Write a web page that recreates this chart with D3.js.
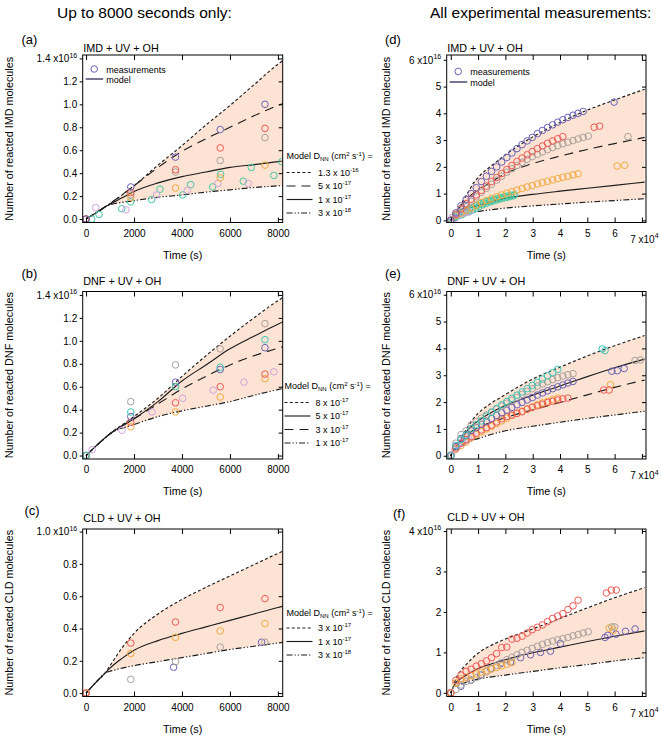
<!DOCTYPE html>
<html><head><meta charset="utf-8">
<script src="https://cdn.jsdelivr.net/npm/d3@7"></script>
<style>
body{margin:0;background:#fff}
svg{font-family:"Liberation Sans",Arial,Helvetica,sans-serif}
</style></head><body>
<svg id="c" width="661" height="737"></svg>
<script>
// ---------------- DATA (time in s, values in 1e16 molecules) ----------------
const sampleTimes = [0,1865,3730,5595,7460,9325,11190,13055,14920,16785,18650,20515,22380,24245,26110,27975,29840,31705,33570,35435,37300,39165,41030,42895,44760,46625,48490,50355];

// IMD measurements
const imdPurple = [0,.28,.54,.78,1.00,1.22,1.45,1.65,1.83,2.0,2.18,2.35,2.52,2.68,2.83,2.97,3.1,3.24,3.36,3.47,3.57,3.67,3.76,3.85,3.93,4.0,4.07];
const imdPurpleLate = [[59800,4.42]];
const imdRed = [0,.23,.43,.62,.79,.95,1.12,1.28,1.45,1.6,1.75,1.9,2.05,2.2,2.33,2.45,2.57,2.68,2.78,2.88,2.97,3.05,3.13];
const imdRedLate = [[52500,3.48],[54500,3.52]];
const imdGray = [0,.21,.41,.51,.71,.88,1.05,1.2,1.35,1.5,1.65,1.8,1.93,2.05,2.17,2.28,2.38,2.47,2.56,2.64,2.72,2.79,2.86,2.92,2.98,3.04,3.1,3.15];
const imdGrayLate = [[64900,3.13]];
const imdOrange = [0,.19,.27,.36,.47,.57,.66,.74,.81,.88,.95,1.01,1.07,1.13,1.19,1.25,1.3,1.36,1.41,1.46,1.51,1.56,1.61,1.65,1.7,1.74];
const imdOrangeLate = [[60900,2.03],[63700,2.06]];
const imdGreenA = [[236,0.0],[1486,.09],[2736,.17],[4028,.21],[5278,.28],[6556,.33],[7833,.38],[9100,.45],[10370,.52],[11640,.58],[12910,.63],[14180,.68],[15450,.72],[16720,.76],[17990,.8],[19260,.83],[20530,.86],[21800,.89],[23070,.92]];
const imdGreenB = [[540,.04],[1861,.15],[3083,.26],[4361,.30],[5611,.39],[6889,.45],[8160,.5],[9430,.56],[10700,.62],[11970,.66],[13240,.7],[14510,.74],[15780,.78],[17050,.81],[18320,.85],[19590,.88],[20860,.91],[22130,.94],[23400,.96]];
const imdPink = [[403,.10],[1667,.08],[2944,.21],[4222,.25],[5500,.31],[6764,.31]];

// IMD model curves
const imdD13e16 = [[0,0],[500,.065],[850,.113],[1000,.135],[2000,.29],[3000,.47],[4000,.64],[5000,.82],[6000,.99],[7000,1.17],[8000,1.35],[10000,1.6],[12500,1.85],[15000,2.05],[20000,2.45],[25000,2.8],[30000,3.12],[35000,3.4],[40000,3.66],[45000,3.9],[50000,4.12],[60000,4.5],[71000,4.9]];
const imdD5e17 = [[0,0],[500,.065],[850,.113],[1000,.135],[2000,.29],[3000,.45],[4000,.59],[5000,.70],[6000,.80],[7000,.90],[8000,.99],[10000,1.13],[15000,1.45],[20000,1.75],[30000,2.12],[40000,2.4],[50000,2.65],[60000,2.87],[71000,3.1]];
const imdD1e17 = [[0,0],[500,.065],[850,.113],[1000,.13],[1500,.185],[2000,.24],[3000,.315],[4000,.37],[5000,.41],[6000,.45],[7000,.475],[8000,.50],[10000,.56],[15000,.7],[20000,.82],[30000,.97],[40000,1.09],[50000,1.2],[60000,1.31],[71000,1.43]];
const imdD3e18 = [[0,0],[500,.065],[850,.113],[2000,.16],[3000,.19],[4000,.21],[5000,.235],[6000,.255],[7000,.275],[8000,.29],[10000,.33],[15000,.4],[20000,.46],[30000,.54],[40000,.61],[50000,.68],[60000,.74],[71000,.81]];

// DNF measurements
const dnfGray = [0,.47,.79,.93,1.15,1.27,1.4,1.52,1.63,1.74,1.85,1.96,2.07,2.18,2.29,2.4,2.5,2.6,2.68,2.76,2.84,2.91,2.97,3.02,3.06];
const dnfGrayLate = [[67500,3.55],[69500,3.57]];
const dnfTeal = [0,.38,.6,.77,1.01,1.15,1.3,1.47,1.62,1.76,1.9,2.02,2.14,2.26,2.38,2.5,2.62,2.74,2.86,2.98,3.1,3.22];
const dnfTealLate = [[55500,3.98],[56500,3.92]];
const dnfPurple = [0,.34,.64,.75,.94,1.05,1.17,1.28,1.39,1.5,1.6,1.7,1.8,1.9,1.99,2.08,2.17,2.26,2.34,2.42,2.5,2.57,2.64,2.71,2.77];
const dnfPurpleLate = [[59000,3.15],[61000,3.17],[63500,3.25]];
const dnfRed = [0,.29,.46,.6,.71,.84,.96,1.05,1.14,1.26,1.38,1.46,1.52,1.58,1.64,1.74,1.8,1.86,1.92,1.98,2.03,2.08,2.12,2.15];
const dnfRedLate = [[56000,2.45],[58000,2.45]];
const dnfOrange = [0,.25,.38,.51,.67,.79,.9,1.0,1.1,1.2,1.3,1.4,1.5,1.58,1.66,1.74,1.82,1.9,1.97,2.03,2.09,2.15];
const dnfOrangeLate = [[58500,2.65]];
const dnfPink = [[250,.05],[1500,.22],[2750,.38],[4028,.50],[5300,.57],[6583,.64],[7833,.73]];

// DNF model curves
const dnfD8e17 = [[0,0],[500,.1],[1000,.19],[2000,.34],[3000,.5],[4000,.69],[5000,.87],[6000,1.04],[7000,1.2],[8000,1.35],[10000,1.58],[15000,1.97],[20000,2.28],[30000,2.86],[40000,3.3],[50000,3.72],[60000,4.1],[71000,4.48]];
const dnfD5e17 = [[0,0],[500,.1],[1000,.19],[2000,.32],[3000,.47],[4000,.65],[5000,.79],[6000,.93],[7000,1.04],[8000,1.145],[10000,1.3],[15000,1.62],[20000,1.87],[30000,2.26],[40000,2.6],[50000,2.95],[60000,3.28],[71000,3.6]];
const dnfD3e17 = [[0,0],[500,.1],[1000,.19],[2000,.32],[3000,.45],[4000,.58],[5000,.69],[6000,.79],[7000,.87],[8000,.935],[10000,1.05],[15000,1.25],[20000,1.42],[30000,1.71],[40000,1.99],[50000,2.27],[60000,2.55],[71000,2.82]];
const dnfD1e17 = [[0,0],[500,.1],[1000,.19],[2000,.27],[3000,.34],[4000,.39],[5000,.43],[6000,.47],[7000,.525],[8000,.575],[10000,.64],[15000,.8],[20000,.93],[30000,1.1],[40000,1.25],[50000,1.39],[60000,1.52],[71000,1.66]];

// CLD measurements
const cldRed = [0,.31,.44,.53,.585,.66,.72,.79,.87,.97,1.12,1.13,1.33,1.35,1.4,1.48,1.56,1.62,1.68,1.76,1.84,1.9,1.96,2.06,2.15,2.29];
const cldRedLate = [[57000,2.47],[58800,2.54],[60600,2.54]];
const cldGray = [0,.085,.195,.285,.315,.38,.45,.52,.6,.68,.75,.82,.88,.94,1.0,1.05,1.1,1.15,1.2,1.24,1.28,1.31,1.34,1.37,1.41,1.44,1.48,1.51];
const cldGrayLate = [[59000,1.63],[60000,1.63]];
const cldOrange = [0,.245,.345,.385,.43,.47,.51,.55,.59,.63,.67,.71,.75];
const cldOrangeLate = [[58000,1.6],[59500,1.55]];
const cldPurple = [[0,0],[3650,.16],[7320,.315],[10950,.44],[14600,.6],[18250,.72],[21900,.76],[25550,.87],[29200,.94],[32850,1.0],[36500,1.03],[40150,1.22],[56500,1.37],[57500,1.42],[60500,1.45],[64000,1.52],[67500,1.58]];

// CLD model curves
const cldD3e17 = [[0,0],[500,.08],[800,.125],[1000,.17],[1500,.28],[2000,.37],[3000,.49],[4000,.58],[5000,.655],[6000,.725],[7000,.795],[8000,.865],[10000,.98],[15000,1.18],[20000,1.33],[25000,1.46],[30000,1.58],[35000,1.71],[40000,1.84],[50000,2.1],[60000,2.35],[71000,2.6]];
const cldD1e17 = [[0,0],[500,.08],[800,.125],[1000,.155],[1500,.215],[2000,.265],[3000,.325],[4000,.37],[5000,.41],[6000,.45],[7000,.49],[8000,.53],[10000,.6],[15000,.72],[20000,.82],[30000,.99],[40000,1.13],[50000,1.27],[60000,1.4],[71000,1.53]];
const cldD3e18 = [[0,0],[500,.08],[800,.125],[1000,.135],[2000,.17],[3000,.195],[4000,.22],[5000,.245],[6000,.27],[7000,.29],[8000,.31],[10000,.34],[20000,.44],[30000,.53],[40000,.62],[50000,.7],[60000,.79],[71000,.87]];

// legend labels
const imdLegend = [["1.3 x 10","-16"],["5 x 10","-17"],["1 x 10","-17"],["3 x 10","-18"]];
const dnfLegend = [["8 x 10","-17"],["5 x 10","-17"],["3 x 10","-17"],["1 x 10","-17"]];
const cldLegend = [["3 x 10","-17"],["1 x 10","-17"],["3 x 10","-18"]];

// ticks
const leftXTicks = [0,2000,4000,6000,8000];
const rightXTicks = [0,10000,20000,30000,40000,50000,60000,70000];
const leftYTicks14 = [0,.2,.4,.6,.8,1.0,1.2,1.4];
const leftYTicks10 = [0,.2,.4,.6,.8,1.0];
const rightYTicks6 = [0,1,2,3,4,5,6];
const rightYTicks4 = [0,1,2,3,4];

// ---------------- STYLE ----------------
const FONT = '"Liberation Sans",Arial,Helvetica,sans-serif';
const C = {purple:"#6a62b4", red:"#ee5a55", gray:"#a8a09b", orange:"#f1a93d", green:"#44c7a3", teal:"#3ec4b6", pink:"#cea4dc"};
const BAND = "#fde3d4";
const STY = {
  dot:{dash:"3,2.3"}, long:{dash:"9,6"}, solid:{dash:null}, dd:{dash:"6,2,1.3,2,1.3,2"}
};

const svg = d3.select("#c");
const defs = svg.append("defs");

const fromGrid = (vals, late) => vals.map((v,i)=>[sampleTimes[i], v]).concat(late||[]);

const imdSeries = [
  {c:C.green, pts:imdGreenA},{c:C.green, pts:imdGreenB},{c:C.pink, pts:imdPink},
  {c:C.orange, pts:fromGrid(imdOrange, imdOrangeLate)},
  {c:C.gray, pts:fromGrid(imdGray, imdGrayLate)},
  {c:C.red, pts:fromGrid(imdRed, imdRedLate)},
  {c:C.purple, pts:fromGrid(imdPurple, imdPurpleLate)}
];
const dnfSeries = [
  {c:C.pink, pts:dnfPink},
  {c:C.orange, pts:fromGrid(dnfOrange, dnfOrangeLate)},
  {c:C.red, pts:fromGrid(dnfRed, dnfRedLate)},
  {c:C.purple, pts:fromGrid(dnfPurple, dnfPurpleLate)},
  {c:C.gray, pts:fromGrid(dnfGray, dnfGrayLate)},
  {c:C.teal, pts:fromGrid(dnfTeal, dnfTealLate)}
];
const cldSeries = [
  {c:C.purple, pts:cldPurple},
  {c:C.gray, pts:fromGrid(cldGray, cldGrayLate)},
  {c:C.orange, pts:fromGrid(cldOrange, cldOrangeLate)},
  {c:C.red, pts:fromGrid(cldRed, cldRedLate)}
];
const imdModels = [{pts:imdD13e16,s:"dot"},{pts:imdD5e17,s:"long"},{pts:imdD1e17,s:"solid"},{pts:imdD3e18,s:"dd"}];
const dnfModels = [{pts:dnfD8e17,s:"dot"},{pts:dnfD5e17,s:"solid"},{pts:dnfD3e17,s:"long"},{pts:dnfD1e17,s:"dd"}];
const cldModels = [{pts:cldD3e17,s:"dot"},{pts:cldD1e17,s:"solid"},{pts:cldD3e18,s:"dd"}];

// ---------------- LAYOUT ----------------
const colX = [[82.7,282.7],[446.7,646]];
const rowY = [55,291.5,529];
const rowH = 167.5;

const panels = [
  {id:"a",col:0,row:0,name:"IMD",series:imdSeries,models:imdModels,legend:imdLegend,yd:[-0.03,1.43],yt:leftYTicks14,lab:[21.5,44],tb:51.7,leg:{t:159,r0:172.5,lx:286.5,tx:318},ml:{cy:14,ty:17.5,ly:24,lty:27.5}},
  {id:"b",col:0,row:1,name:"DNF",series:dnfSeries,models:dnfModels,legend:dnfLegend,yd:[-0.03,1.43],yt:leftYTicks14,lab:[21.5,277.5],tb:285,leg:{t:389,r0:402.5,lx:284.5,tx:315.5}},
  {id:"c",col:0,row:2,name:"CLD",series:cldSeries,models:cldModels,legend:cldLegend,yd:[-0.021,1.016],yt:leftYTicks10,lab:[24.5,514.5],tb:521.5,leg:{t:616,r0:628,lx:286.5,tx:318}},
  {id:"d",col:1,row:0,name:"IMD",series:imdSeries,models:imdModels,yd:[-0.08,6.18],yt:rightYTicks6,lab:[385,44],tb:51.7,ml:{cy:16.5,ty:20,ly:27,lty:30.5}},
  {id:"e",col:1,row:1,name:"DNF",series:dnfSeries,models:dnfModels,yd:[-0.12,6.12],yt:rightYTicks6,lab:[385,277.5],tb:285},
  {id:"f",col:1,row:2,name:"CLD",series:cldSeries,models:cldModels,yd:[-0.09,4.05],yt:rightYTicks4,lab:[393,517.5],tb:521}
];

function sup(sel, base, exp, expSize, shift){
  sel.text(null);
  sel.append("tspan").text(base);
  sel.append("tspan").attr("font-size",expSize).attr("dy",-shift).text(exp);
}

function drawPanel(p){
  const [x0,x1] = colX[p.col];
  const y0 = rowY[p.row], y1 = y0 + rowH;
  const xd = p.col ? [-1500,71500] : [-140,8200];
  const x = d3.scaleLinear().domain(xd).range([x0,x1]);
  const y = d3.scaleLinear().domain(p.yd).range([y1,y0]);
  const tmax = p.col ? Infinity : 8200;

  defs.append("clipPath").attr("id","clip-"+p.id).append("rect")
    .attr("x",x0).attr("y",y0).attr("width",x1-x0).attr("height",y1-y0);
  const g = svg.append("g");
  const pl = g.append("g").attr("clip-path",`url(#clip-${p.id})`);

  // band between the highest and lowest model curve
  const area = d3.area().x(d=>x(d[0])).y0(y1).y1(d=>y(d[1])).curve(d3.curveMonotoneX);
  pl.append("path").attr("d",area(p.models[0].pts)).attr("fill",BAND);
  pl.append("path").attr("d",area(p.models[p.models.length-1].pts)).attr("fill","#fff");

  const line = d3.line().x(d=>x(d[0])).y(d=>y(d[1])).curve(d3.curveMonotoneX);
  p.models.forEach(m=>{
    pl.append("path").attr("d",line(m.pts)).attr("fill","none")
      .attr("stroke","#1c1c1c").attr("stroke-width",1.15)
      .attr("stroke-dasharray",STY[m.s].dash);
  });

  p.series.forEach(s=>{
    pl.append("g").selectAll("circle").data(s.pts.filter(d=>d[0]<=tmax)).join("circle")
      .attr("cx",d=>x(d[0])).attr("cy",d=>y(d[1])).attr("r",3.3)
      .attr("fill","none").attr("stroke",s.c).attr("stroke-width",1);
  });

  // frame
  g.append("rect").attr("x",x0).attr("y",y0).attr("width",x1-x0).attr("height",y1-y0)
    .attr("fill","none").attr("stroke","#000").attr("stroke-width",1);

  const xt = p.col ? rightXTicks : leftXTicks;
  const yfmt = p.col ? d3.format("d") : d3.format(".1f");
  const xfmt = p.col ? (d=>String(d/1e4)) : d3.format("d");

  const ax = g.append("g").attr("transform",`translate(${x0},0)`)
    .call(d3.axisLeft(y).tickValues(p.yt).tickSizeInner(3).tickSizeOuter(0).tickPadding(2.5).tickFormat(yfmt));
  ax.attr("font-family",FONT).attr("font-size",10);
  ax.select(".domain").remove();
  const ytop = p.yt[p.yt.length-1];
  ax.selectAll(".tick text").filter(d=>d===ytop).each(function(d){ sup(d3.select(this), yfmt(d)+" x10", "16", 7, 4.5); });

  const bx = g.append("g").attr("transform",`translate(0,${y1})`)
    .call(d3.axisBottom(x).tickValues(xt).tickSizeInner(-5).tickSizeOuter(0).tickPadding(7).tickFormat(xfmt));
  bx.attr("font-family",FONT).attr("font-size",10);
  bx.select(".domain").remove();
  if(p.col){
    bx.selectAll(".tick text").filter(d=>d===70000).each(function(d){
      const t = d3.select(this); t.attr("y",13).attr("x",2);
      sup(t, xfmt(d)+" x10", "4", 7, 4.5);
    });
  }

  const tx = g.append("g").attr("transform",`translate(0,${y0})`)
    .call(d3.axisTop(x).tickValues(xt).tickSizeInner(-5).tickSizeOuter(0).tickFormat(""));
  tx.select(".domain").remove();
  const rx = g.append("g").attr("transform",`translate(${x1},0)`)
    .call(d3.axisRight(y).tickValues(p.yt).tickSizeInner(-4).tickSizeOuter(0).tickFormat(""));
  rx.select(".domain").remove();

  // panel letter and title
  svg.append("text").attr("x",p.lab[0]).attr("y",p.lab[1]).attr("font-size",13).text(`(${p.id})`);
  svg.append("text").attr("x",x0+0.5).attr("y",p.tb).attr("font-size",10.8).text(`${p.name} + UV + OH`);

  // axis titles
  svg.append("text").attr("x",(x0+x1)/2).attr("y",y1+36).attr("text-anchor","middle").attr("font-size",10.8).text("Time (s)");
  const yl = p.col ? 390 : 13;
  svg.append("text").attr("transform",`translate(${yl},${(y0+y1)/2}) rotate(-90)`)
    .attr("text-anchor","middle").attr("font-size",10.8).text(`Number of reacted ${p.name} molecules`);

  // measurements / model legend
  if(p.ml){
    const m = p.ml;
    svg.append("circle").attr("cx",x0+11.5).attr("cy",y0+m.cy).attr("r",3.3).attr("fill","none").attr("stroke",C.purple).attr("stroke-width",1);
    svg.append("text").attr("x",x0+23.5).attr("y",y0+m.ty).attr("font-size",9).text("measurements");
    svg.append("line").attr("x1",x0+3).attr("x2",x0+20.5).attr("y1",y0+m.ly).attr("y2",y0+m.ly).attr("stroke","#2c2c58").attr("stroke-width",1.3);
    svg.append("text").attr("x",x0+23.5).attr("y",y0+m.lty).attr("font-size",9).text("model");
  }

  // model D legend
  if(p.legend){
    const L = p.leg;
    const t = svg.append("text").attr("x",L.lx).attr("y",L.t).attr("font-size",9);
    t.append("tspan").text("Model D");
    t.append("tspan").attr("font-size",6).attr("dy",2).text("NN");
    t.append("tspan").attr("dy",-2).text(" (cm");
    t.append("tspan").attr("font-size",6).attr("dy",-3.5).text("2");
    t.append("tspan").attr("dy",3.5).text(" s");
    t.append("tspan").attr("font-size",6).attr("dy",-3.5).text("-1");
    t.append("tspan").attr("dy",3.5).text(") =");
    p.legend.forEach((lab,i)=>{
      const yy = L.r0 + i*13.5;
      svg.append("line").attr("x1",L.lx).attr("x2",L.lx+26).attr("y1",yy).attr("y2",yy)
        .attr("stroke","#1c1c1c").attr("stroke-width",1.15).attr("stroke-dasharray",STY[p.models[i].s].dash);
      const tt = svg.append("text").attr("x",L.tx).attr("y",yy+3).attr("font-size",9);
      sup(tt, lab[0], lab[1], 6, 4);
    });
  }
}

panels.forEach(drawPanel);

// headers
svg.append("text").attr("x",57).attr("y",17.5).attr("font-size",15.5).text("Up to 8000 seconds only:");
svg.append("text").attr("x",430).attr("y",17.5).attr("font-size",15.5).text("All experimental measurements:");
</script></body></html>
